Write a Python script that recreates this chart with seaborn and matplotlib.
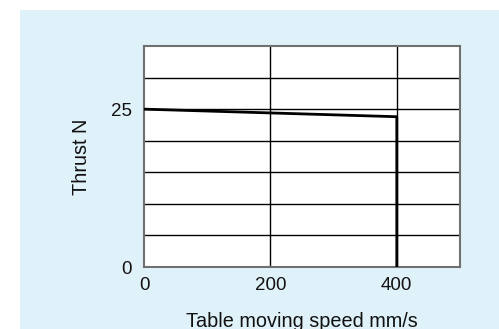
import matplotlib
matplotlib.use("Agg")
import matplotlib.pyplot as plt
from matplotlib.patches import Rectangle
import seaborn as sns
import pandas as pd

# thrust curve
speed = [0, 200, 400, 400]
thrust = [25, 24.4, 23.8, 0]

x_ticks = [0, 200, 400]
y_ticks = [0, 25]
y_grid = [5, 10, 15, 20, 25, 30]

sns.set_style("white")
plt.rcParams['font.family'] = ['Liberation Sans', 'DejaVu Sans']

fig = plt.figure(figsize=(4.99, 3.29), dpi=100)
fig.patch.set_facecolor("white")
# light blue panel behind the chart
fig.patches.append(Rectangle((20 / 499, 0), 479 / 499, 319 / 329,
                             transform=fig.transFigure, facecolor="#e0f2f9",
                             edgecolor="none", zorder=-1))

ax = fig.add_axes([144 / 499, 1 - 267 / 329, 316 / 499, 221 / 329])
ax.set_zorder(2)
ax.set_facecolor("white")

for yv in y_grid:
    ax.axhline(yv, color="black", lw=1.0, zorder=1)
for xv in x_ticks[1:]:
    ax.axvline(xv, color="black", lw=1.0, zorder=1)

df = pd.DataFrame({"speed": speed, "thrust": thrust})
sns.lineplot(data=df, x="speed", y="thrust", sort=False, estimator=None,
             color="black", lw=2.0, ax=ax, zorder=3)

ax.set_xlim(0, 500)
ax.set_ylim(0, 35)
ax.set_xticks(x_ticks)
ax.set_yticks(y_ticks)
ax.tick_params(length=0, labelsize=13.5, colors="#111111")
ax.tick_params(axis="x", pad=7.5)
ax.tick_params(axis="y", pad=9)

for s in ax.spines.values():
    s.set_color("#707070")
    s.set_linewidth(1.5)

ax.set_xlabel("Table moving speed mm/s", fontsize=14.3, color="#111111", labelpad=13)
ax.set_ylabel("Thrust N", fontsize=14.3, color="#111111", labelpad=14)

fig.savefig("out.png", dpi=100)
